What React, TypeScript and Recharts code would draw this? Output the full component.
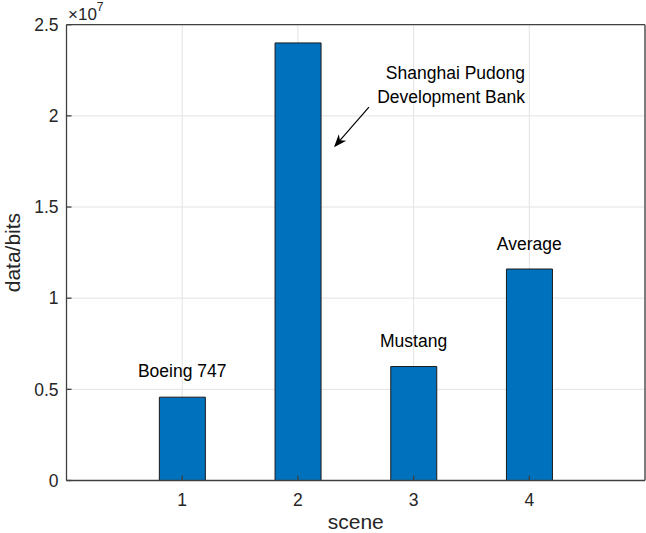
import React from 'react';
import {
  BarChart,
  Bar,
  XAxis,
  YAxis,
  CartesianGrid,
  ReferenceDot,
  ReferenceLine,
  Label
} from 'recharts';

// scene index and transmitted data per scene
const scenes = [1, 2, 3, 4];
const bits = [4.57e6, 24.0e6, 6.25e6, 11.6e6];

const xTicks = [1, 2, 3, 4];
const yTicks = [0, 0.5e7, 1e7, 1.5e7, 2e7, 2.5e7];

// text annotations (data coordinates of the text centre)
const noteText = ['Boeing 747', 'Mustang', 'Average'];
const noteX = [1, 3, 4];
const noteY = [6.0e6, 7.65e6, 13.0e6];

// right aligned two-line note with its arrow
const bankLines = ['Shanghai Pudong', 'Development Bank'];
const bankX = [3.963, 3.963];
const bankY = [22.34e6, 21.03e6];
const arrowFrom = { x: 2.614, y: 20.48e6 };
const arrowTo = { x: 2.312, y: 18.28e6 };

const FONT = '"Liberation Sans", Arial, Helvetica, sans-serif';
const AXIS = '#404040';
const TEXT = '#262626';

const data = scenes.map((s, i) => ({ scene: s, bits: bits[i] }));

const ArrowShape = (props: any) => {
  const { x1, y1, x2, y2 } = props;
  const ang = Math.atan2(y2 - y1, x2 - x1);
  const len = 13;
  const half = 5;
  const c = Math.cos(ang);
  const s = Math.sin(ang);
  const bx = x2 - len * c;
  const by = y2 - len * s;
  const nx = x2 - len * 0.7 * c;
  const ny = y2 - len * 0.7 * s;
  const px = -s * half;
  const py = c * half;
  return (
    <g>
      <line x1={x1} y1={y1} x2={nx} y2={ny} stroke="#000" strokeWidth={1.2} />
      <polygon
        points={`${x2},${y2} ${bx + px},${by + py} ${nx},${ny} ${bx - px},${by - py}`}
        fill="#000"
      />
    </g>
  );
};

const centreOf = (vb: any) => ({
  cx: vb.x + (vb.width || 0) / 2,
  cy: vb.y + (vb.height || 0) / 2
});

export default function App() {
  return (
    <div style={{ position: 'absolute', left: 0, top: 0, width: 646, height: 533, background: '#fff' }}>
      <BarChart
        width={646}
        height={533}
        data={data}
        margin={{ top: 23.7, right: 0, bottom: 12.5, left: 6.5 }}
        style={{ fontFamily: FONT }}
      >
        <CartesianGrid stroke="#e3e3e3" strokeWidth={1} />
        <Bar
          dataKey="bits"
          fill="#0072BD"
          stroke="#1a1a1a"
          strokeWidth={1}
          barSize={46}
          isAnimationActive={false}
        />
        <XAxis
          dataKey="scene"
          type="number"
          domain={[0, 5]}
          ticks={xTicks}
          allowDataOverflow
          height={40}
          stroke={AXIS}
          strokeWidth={1.3}
          tickSize={-5}
          tickMargin={18}
          tick={{ fill: TEXT, fontSize: 17.5, fontFamily: FONT }}
        >
          <Label
            content={(p: any) => {
              const vb = p.viewBox;
              return (
                <text
                  x={vb.x + vb.width / 2}
                  y={vb.y + 48}
                  textAnchor="middle"
                  fontSize={21}
                  fill={TEXT}
                  fontFamily={FONT}
                >
                  scene
                </text>
              );
            }}
          />
        </XAxis>
        <XAxis
          xAxisId="top"
          orientation="top"
          dataKey="scene"
          type="number"
          domain={[0, 5]}
          ticks={xTicks}
          allowDataOverflow
          height={1}
          stroke={AXIS}
          strokeWidth={1.3}
          tickSize={-5}
          tick={false}
        />
        <YAxis
          type="number"
          domain={[0, 2.5e7]}
          ticks={yTicks}
          allowDataOverflow
          width={60}
          stroke={AXIS}
          strokeWidth={1.3}
          tickSize={-5}
          tickMargin={13}
          tickFormatter={(v: number) => String(v / 1e7)}
          tick={{ fill: TEXT, fontSize: 17.5, fontFamily: FONT }}
        >
          <Label
            content={(p: any) => {
              const vb = p.viewBox;
              const cx = vb.x + 6;
              const cy = vb.y + vb.height / 2;
              return (
                <g>
                  <text
                    x={cx}
                    y={cy}
                    dy="0.36em"
                    transform={`rotate(-90, ${cx}, ${cy})`}
                    textAnchor="middle"
                    fontSize={21}
                    fill={TEXT}
                    fontFamily={FONT}
                  >
                    data/bits
                  </text>
                  <text x={vb.x + vb.width + 1.5} y={vb.y - 4.5} fontSize={17} fill={TEXT} fontFamily={FONT}>
                    ×10
                    <tspan fontSize={12} dy={-9}>7</tspan>
                  </text>
                </g>
              );
            }}
          />
        </YAxis>
        <YAxis
          yAxisId="right"
          orientation="right"
          type="number"
          domain={[0, 2.5e7]}
          ticks={yTicks}
          allowDataOverflow
          width={1}
          stroke={AXIS}
          strokeWidth={1.3}
          tickSize={-5}
          tick={false}
        />

        {noteText.map((t, i) => (
          <ReferenceDot
            key={t}
            x={noteX[i]}
            y={noteY[i]}
            r={1}
            fill="none"
            stroke="none"
            label={(p: any) => {
              const { cx, cy } = centreOf(p.viewBox);
              return (
                <text x={cx} y={cy} dy="0.36em" textAnchor="middle" fontSize={17.5} fill="#000" fontFamily={FONT}>
                  {t}
                </text>
              );
            }}
          />
        ))}

        {bankLines.map((t, i) => (
          <ReferenceDot
            key={t}
            x={bankX[i]}
            y={bankY[i]}
            r={1}
            fill="none"
            stroke="none"
            label={(p: any) => {
              const { cx, cy } = centreOf(p.viewBox);
              return (
                <text x={cx} y={cy} dy="0.36em" textAnchor="end" fontSize={17.5} fill="#000" fontFamily={FONT}>
                  {t}
                </text>
              );
            }}
          />
        ))}

        <ReferenceLine segment={[arrowFrom, arrowTo]} shape={ArrowShape} />
      </BarChart>
    </div>
  );
}
